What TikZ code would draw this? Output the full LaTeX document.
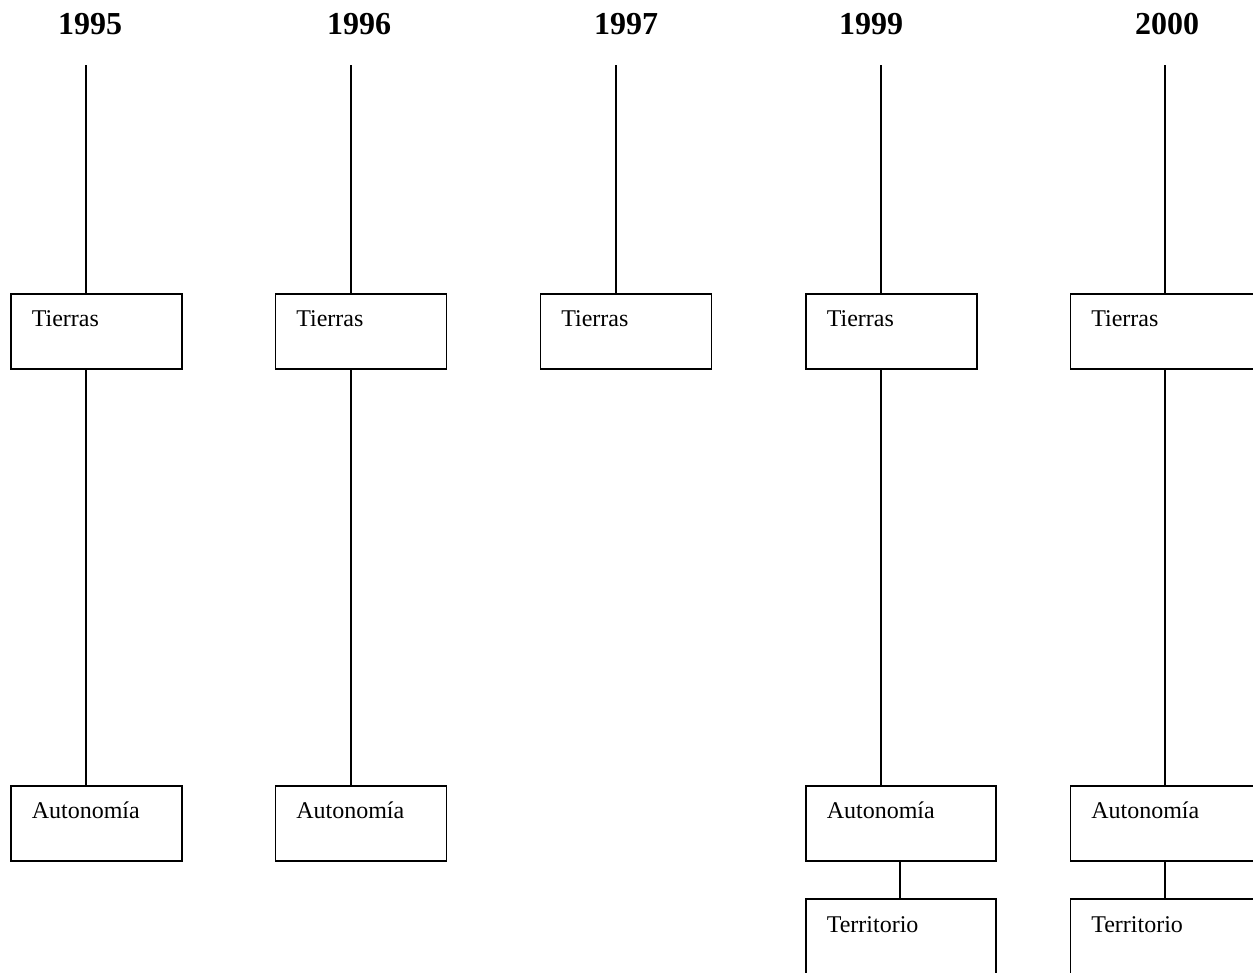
\documentclass[tikz,border=0pt]{standalone}
\usepackage{fontspec}
\setmainfont{Liberation Serif}
\usetikzlibrary{calc}
\tikzset{
  box/.style={draw, line width=1.4pt, rectangle, anchor=north west, inner sep=0pt,
    minimum height=56.25pt, minimum width=128.25pt},
  widebox/.style={box, minimum width=142.5pt},
  yearlbl/.style={anchor=base, inner sep=0pt, font=\fontsize{24}{28}\selectfont\bfseries},
  txt/.style={anchor=base west, inner sep=0pt, font=\fontsize{18}{22}\selectfont},
  conn/.style={line width=1.4pt}
}
\begin{document}
\begin{tikzpicture}[x=0.75pt, y=-0.75pt]
\useasboundingbox (0,0) rectangle (1253,972);
\clip (0,0) rectangle (1253,972);

% year labels
\node[yearlbl] (y1) at (90,34) {1995};
\node[yearlbl] (y2) at (359,34) {1996};
\node[yearlbl] (y3) at (626,34) {1997};
\node[yearlbl] (y4) at (871,34) {1999};
\node[yearlbl] (y5) at (1167,34) {2000};

% line tops
\coordinate (c1) at (86,65);
\coordinate (c2) at (351,65);
\coordinate (c3) at (616,65);
\coordinate (c4) at (881,65);
\coordinate (c5) at (1165,65);
\coordinate (d4) at (900,65);
\coordinate (d5) at (1165,65);

% Tierras boxes
\node[box] (T1) at (10,293) {};
\node[box] (T2) at (274.5,293) {};
\node[box] (T3) at (539.5,293) {};
\node[box] (T4) at (805,293) {};
\node[widebox] (T5) at (1069.5,293) {};

% Autonomia boxes
\node[box] (A1) at (10,785) {};
\node[box] (A2) at (274.5,785) {};
\node[widebox] (A4) at (805,785) {};
\node[widebox] (A5) at (1069.5,785) {};

% Territorio boxes
\node[widebox] (R4) at (805,898) {};
\node[widebox] (R5) at (1069.5,898) {};

% texts
\foreach \b in {T1,T2,T3,T4,T5}
  \node[txt] (\b txt) at ($(\b.north west)+(21.5,33)$) {Tierras};
\foreach \b in {A1,A2,A4,A5}
  \node[txt] (\b txt) at ($(\b.north west)+(21.5,33)$) {Autonomía};
\foreach \b in {R4,R5}
  \node[txt] (\b txt) at ($(\b.north west)+(21.5,34)$) {Territorio};

% connectors
\draw[conn] (c1) -- (c1 |- T1.north);
\draw[conn] (c2) -- (c2 |- T2.north);
\draw[conn] (c3) -- (c3 |- T3.north);
\draw[conn] (c4) -- (c4 |- T4.north);
\draw[conn] (c5) -- (c5 |- T5.north);

\draw[conn] (c1 |- T1.south) -- (c1 |- A1.north);
\draw[conn] (c2 |- T2.south) -- (c2 |- A2.north);
\draw[conn] (c4 |- T4.south) -- (c4 |- A4.north);
\draw[conn] (c5 |- T5.south) -- (c5 |- A5.north);

\draw[conn] (d4 |- A4.south) -- (d4 |- R4.north);
\draw[conn] (d5 |- A5.south) -- (d5 |- R5.north);
\end{tikzpicture}
\end{document}
